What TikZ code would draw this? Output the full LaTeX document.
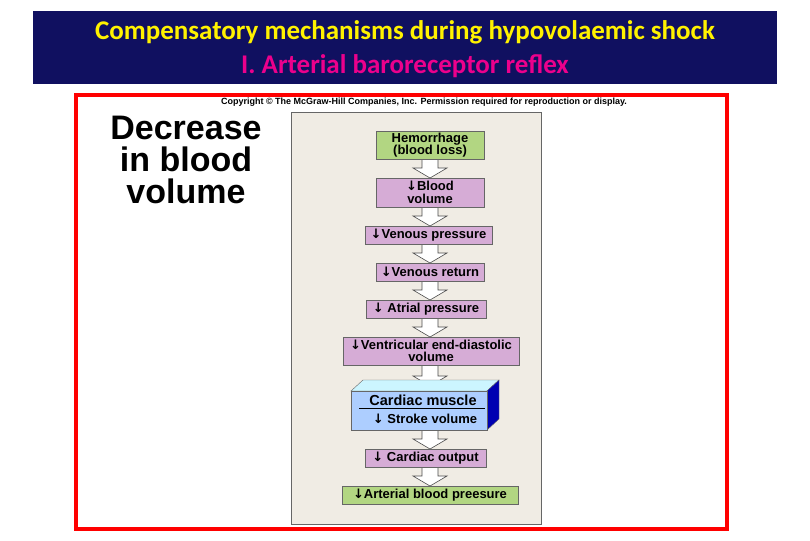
\documentclass[tikz,border=0pt]{standalone}
\usepackage{fontspec}
\setmainfont{Liberation Sans}
\newfontfamily\calfnt{Carlito}
\newfontfamily\dvfnt{DejaVu Sans}
\newcommand{\dn}{{\dvfnt\bfseries ↓}}
\definecolor{mauve}{RGB}{214,172,214}
\definecolor{lgreen}{RGB}{178,214,130}
\definecolor{navy}{RGB}{16,16,96}
\definecolor{beige}{RGB}{240,236,228}
\begin{document}
\begin{tikzpicture}[x=1pt,y=-1pt,
  bx/.style={draw=black!60,line width=0.8pt,inner sep=0pt,font=\bfseries\fontsize{13}{12.5}\selectfont,align=center},
  pur/.style={bx,fill=mauve},
  grn/.style={bx,fill=lgreen},
  blk/.style={draw=black!70,fill=white,line width=0.6pt}]
\useasboundingbox (0,0) rectangle (810,540);
\fill[white] (0,0) rectangle (810,540);
% header
\fill[navy] (33,11) rectangle (777,84);
\node (t1) at (405,32) {\calfnt\bfseries\fontsize{27}{28}\selectfont\color{yellow}Compensatory mechanisms during hypovolaemic shock};
\node (t2) at (405,66) {\calfnt\bfseries\fontsize{27}{28}\selectfont\color{magenta}I. Arterial baroreceptor reflex};
% frame
\draw[red,line width=4pt] (76,95) rectangle (727,529);
\node (cp) at (424,102) {\bfseries\fontsize{9}{10}\selectfont Copyright \textcopyright\ The McGraw-Hill Companies, Inc. Permission required for reproduction or display.};
\fill[beige,draw=black!60] (291,112) rectangle (541,524);
\node[align=center,font=\bfseries\fontsize{34}{32}\selectfont] (dec) at (186,160) {Decrease\\in blood\\volume};
% arrows
\newcommand{\harrow}[2]{\draw[blk] (422,#1) -- (438,#1) -- (438,#2-10) -- (447,#2-10) -- (430,#2) -- (413,#2-10) -- (422,#2-10) -- cycle;}
\harrow{159}{178}\harrow{207}{226}\harrow{244}{263}\harrow{281}{300}\harrow{318}{337}
\harrow{365}{386}\harrow{430}{449}\harrow{467}{486}
% boxes
\node[grn,minimum width=108,minimum height=28] (n1) at (430,145) {Hemorrhage\\(blood loss)};
\node[pur,minimum width=108,minimum height=29] (n2) at (430,192.5) {\dn Blood\\volume};
\node[pur,minimum width=127,minimum height=18] (n3) at (428.5,235) {\dn Venous pressure};
\node[pur,minimum width=108,minimum height=18] (n4) at (430,272) {\dn Venous return};
\node[pur,minimum width=120,minimum height=18] (n5) at (426,309) {\dn\ Atrial pressure};
\node[pur,minimum width=176,minimum height=28] (n6) at (431,351) {\dn Ventricular end-diastolic\\volume};
% cardiac muscle 3D
\fill[blue!20!cyan!20!white,draw=black!60] (351,391) -- (363,380) -- (499,380) -- (487,391) -- cycle;
\fill[blue!70!black,draw=black!60] (487,391) -- (499,380) -- (499,419) -- (487,430) -- cycle;
\node[bx,fill=blue!25!cyan!20!white!85!blue,minimum width=136,minimum height=39] (n7) at (419,410.5) {};
\node[font=\bfseries\fontsize{14.5}{14}\selectfont] (cm) at (423,400) {Cardiac muscle};
\draw[line width=1pt] (359,408) -- (485,408);
\node[font=\bfseries\fontsize{13}{13}\selectfont] (sv) at (425,419) {\dn\ Stroke volume};
\node[pur,minimum width=121,minimum height=18] (n8) at (425.5,458) {\dn\ Cardiac output};
\node[grn,minimum width=176,minimum height=18] (n9) at (430,495) {\dn Arterial blood preesure};
\end{tikzpicture}
\end{document}
